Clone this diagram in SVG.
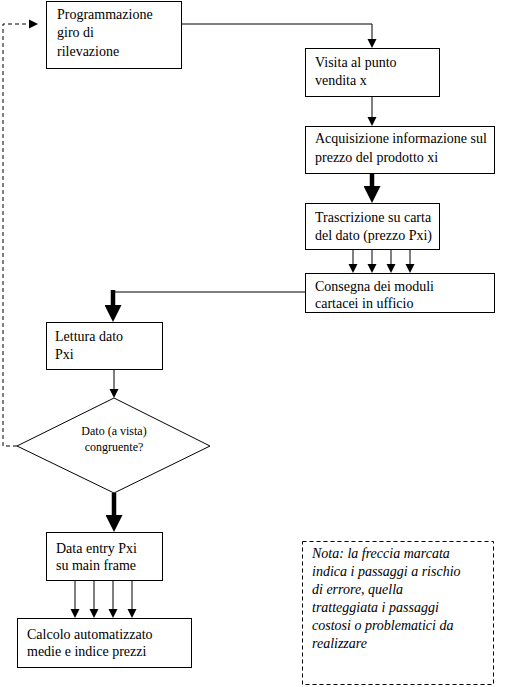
<svg xmlns="http://www.w3.org/2000/svg" width="525" height="687" viewBox="0 0 525 687">
<style>
.box{fill:#fff;stroke:#000;stroke-width:1}
.t{font-family:'Liberation Serif','DejaVu Serif',serif;font-size:14px;fill:#000}
.ts{font-family:'Liberation Serif','DejaVu Serif',serif;font-size:12px;fill:#000}
.ti{font-family:'Liberation Serif','DejaVu Serif',serif;font-size:14px;font-style:italic;fill:#000}
.ln{fill:none;stroke:#000;stroke-width:1}
.thick{fill:none;stroke:#000;stroke-width:4.5}
.dash{fill:none;stroke:#000;stroke-width:1;stroke-dasharray:4,3}
</style>
<defs>
<marker id="ah" markerUnits="userSpaceOnUse" markerWidth="10" markerHeight="10" refX="0" refY="5" orient="auto" viewBox="0 0 10 10"><path d="M0,0.5 L9,5 L0,9.5 z" fill="#000"/></marker>
<marker id="ahb" markerUnits="userSpaceOnUse" markerWidth="17" markerHeight="17" refX="0" refY="8.5" orient="auto" viewBox="0 0 17 17"><path d="M0,0 L17,8.5 L0,17 z" fill="#000"/></marker>
</defs>
<rect width="525" height="687" fill="#fff"/>
<g id="connectors">
<path class="ln" d="M181,24 H372 V39" marker-end="url(#ah)"/>
<path class="ln" d="M372,96 V117" marker-end="url(#ah)"/>
<path class="thick" d="M372,173 V186" marker-end="url(#ahb)"/>
<path class="ln" d="M353,249 V264" marker-end="url(#ah)"/>
<path class="ln" d="M372,249 V264" marker-end="url(#ah)"/>
<path class="ln" d="M391,249 V264" marker-end="url(#ah)"/>
<path class="ln" d="M410,249 V264" marker-end="url(#ah)"/>
<path class="ln" d="M305,292 H113"/>
<path class="thick" d="M113,290 V305" marker-end="url(#ahb)"/>
<path class="ln" d="M114,369 V389" marker-end="url(#ah)"/>
<path class="thick" d="M114,493 V515" marker-end="url(#ahb)"/>
<path class="ln" d="M75,580 V609" marker-end="url(#ah)"/>
<path class="ln" d="M94,580 V609" marker-end="url(#ah)"/>
<path class="ln" d="M113,580 V609" marker-end="url(#ah)"/>
<path class="ln" d="M132,580 V609" marker-end="url(#ah)"/>
<path class="dash" d="M17,446 H3 V24 H29" marker-end="url(#ah)"/>
</g>
<g id="n1"><rect class="box" x="46.5" y="1.5" width="135" height="67"/>
<text class="t" x="57" y="19">Programmazione</text><text class="t" x="57" y="37">giro di</text><text class="t" x="57" y="56">rilevazione</text></g>
<g id="n2"><rect class="box" x="305.5" y="48.5" width="134" height="48"/>
<text class="t" x="315" y="67">Visita al punto</text><text class="t" x="315" y="85">vendita x</text></g>
<g id="n3"><rect class="box" x="305.5" y="126.5" width="189" height="47"/>
<text class="t" x="315" y="143">Acquisizione informazione sul</text><text class="t" x="315" y="162">prezzo del prodotto xi</text></g>
<g id="n4"><rect class="box" x="305.5" y="203.5" width="134" height="46"/>
<text class="t" x="315" y="222">Trascrizione su carta</text><text class="t" x="315" y="240">del dato (prezzo Pxi)</text></g>
<g id="n5"><rect class="box" x="305.5" y="273.5" width="189" height="39"/>
<text class="t" x="315" y="291">Consegna dei moduli</text><text class="t" x="315" y="308">cartacei in ufficio</text></g>
<g id="n6"><rect class="box" x="46.5" y="322.5" width="116" height="47"/>
<text class="t" x="55" y="341">Lettura dato</text><text class="t" x="55" y="359">Pxi</text></g>
<g id="n7"><polygon class="box" points="114,398 210,446 114,493 17,446"/>
<text class="ts" x="114" y="435" text-anchor="middle">Dato (a vista)</text><text class="ts" x="114" y="451" text-anchor="middle">congruente?</text></g>
<g id="n8"><rect class="box" x="46.5" y="532.5" width="116" height="48"/>
<text class="t" x="56" y="553">Data entry Pxi</text><text class="t" x="56" y="570">su main frame</text></g>
<g id="n9"><rect class="box" x="17.5" y="618.5" width="174" height="49"/>
<text class="t" x="27" y="639">Calcolo automatizzato</text><text class="t" x="27" y="656">medie e indice prezzi</text></g>
<g id="note"><rect class="dash" x="302.5" y="541.5" width="191" height="143"/>
<text class="ti" x="312" y="558">Nota: la freccia marcata</text>
<text class="ti" x="312" y="576">indica i passaggi a rischio</text>
<text class="ti" x="312" y="594">di errore, quella</text>
<text class="ti" x="312" y="612">tratteggiata i passaggi</text>
<text class="ti" x="312" y="630">costosi o problematici da</text>
<text class="ti" x="312" y="648">realizzare</text></g>
</svg>
